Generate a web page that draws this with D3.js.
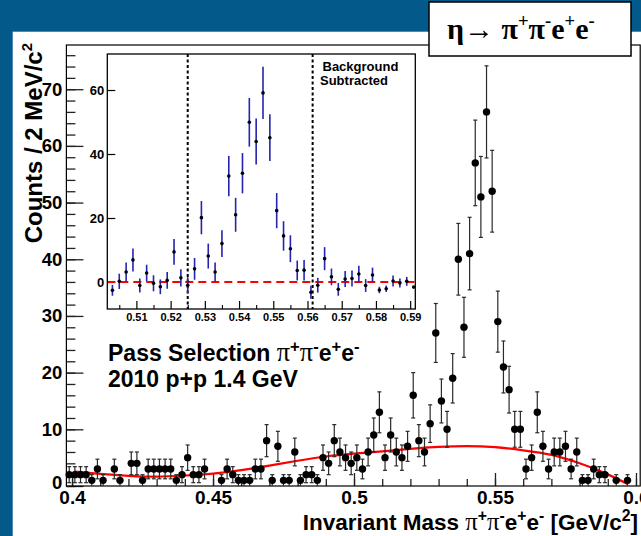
<!DOCTYPE html>
<html>
<head>
<meta charset="utf-8">
<script src="https://cdn.jsdelivr.net/npm/d3@7"></script>
<style>
  html, body { margin: 0; padding: 0; background: #04598b; }
  svg { display: block; }
</style>
</head>
<body>
<svg id="chart" width="641" height="536"></svg>
<script>
// ---- Invariant-mass spectrum, 2 MeV/c^2 bins (bin centres in GeV/c^2) ----
const massBins = [
  0.399,0.401,0.403,0.405,0.407,0.409,0.411,0.413,0.415,0.417,
  0.419,0.421,0.423,0.425,0.427,0.429,0.431,0.433,0.435,0.437,
  0.439,0.441,0.443,0.445,0.447,0.449,0.451,0.453,0.455,0.457,
  0.459,0.461,0.463,0.465,0.467,0.469,0.471,0.473,0.475,0.477,
  0.479,0.481,0.483,0.485,0.487,0.489,0.491,0.493,0.495,0.497,
  0.499,0.501,0.503,0.505,0.507,0.509,0.511,0.513,0.515,0.517,
  0.519,0.521,0.523,0.525,0.527,0.529,0.531,0.533,0.535,0.537,
  0.539,0.541,0.543,0.545,0.547,0.549,0.551,0.553,0.555,0.557,
  0.559,0.561,0.563,0.565,0.567,0.569,0.571,0.573,0.575,0.577,
  0.579,0.581,0.583,0.585,0.587,0.589,0.591,0.593,0.595,0.597
];
const counts = [
  2,2,2,2,1,3,1,0,3,1,
  0,4,4,1,3,3,3,3,3,1,
  2,5,2,2,3,0,0,1,3,2,
  1,1,1,3,3,8,1,7,1,1,
  6,1,2,2,1,5,4,8,6,5,
  4,5,3,6,9,13,5,9,6,5,
  7,16,8,6,11,27,15,10,19,40,
  28,41,57,51,66,52,29,21,17,10,
  10,3,5,13,7,3,6,6,7,3,
  6,1,1,3,2,2,0,1,0,1
];

// Background fit (polynomial), sampled along the mass axis
const fitMass   = [0.401,0.41,0.42,0.43,0.44,0.45,0.46,0.47,0.48,0.49,0.50,0.51,0.52,0.53,0.54,0.55,0.56,0.57,0.58,0.59,0.597];
const fitCounts = [2.55,2.15,1.8,1.65,1.85,2.2,2.8,3.6,4.45,5.2,5.7,6.1,6.55,6.9,7.05,6.85,6.3,5.5,4.0,2.05,0.35];

// ---- Background-subtracted spectrum (inset) ----
const subMass = [
  0.503,0.505,0.507,0.509,0.511,0.513,0.515,0.517,0.519,0.521,
  0.523,0.525,0.527,0.529,0.531,0.533,0.535,0.537,0.539,0.541,
  0.543,0.545,0.547,0.549,0.551,0.553,0.555,0.557,0.559,0.561,
  0.563,0.565,0.567,0.569,0.571,0.573,0.575,0.577,0.579,0.581,
  0.583,0.585,0.587,0.589,0.591
];
const subCounts = [
  -2.6,0.2,3.1,6.9,-1.1,2.8,-0.4,-1.5,0.5,9.4,
  1.3,-1.0,4.1,20.1,8.1,3.1,12.0,33.1,21.0,34.0,
  49.9,43.9,59.1,45.1,22.3,14.4,10.4,3.6,3.7,-3.2,
  -1.0,7.3,1.6,-2.3,0.9,1.1,2.5,-1.1,2.2,-2.5,
  -2.1,0.3,-0.3,0.2,-1.6
];
const subErrors = [
  1.7,2.4,3.0,3.6,2.2,2.6,2.5,2.3,2.6,4.0,
  2.7,2.5,3.4,5.2,3.9,3.0,4.2,6.3,5.3,6.3,
  7.6,7.2,8.2,7.3,5.5,4.6,4.2,3.1,3.2,2.0,
  2.3,3.6,2.6,2.0,2.5,2.5,2.6,2.0,2.3,1.0,
  1.0,1.7,1.4,1.4,0
];
const signalWindow = [0.525, 0.5615];

// Tick values
const mainYTicks = [0,10,20,30,40,50,60,70];
const mainXTicks = [0.4,0.45,0.5,0.55,0.6];
const insetYTicks = [0,20,40,60];
const insetXTicks = [0.51,0.52,0.53,0.54,0.55,0.56,0.57,0.58,0.59];

// ---------------------------------------------------------------------------
const W = 641, H = 536;
const SANS = "'Liberation Sans', Arial, Helvetica, sans-serif";
const SERIF = "'Liberation Serif', 'Times New Roman', serif";
const svg = d3.select('#chart');

svg.append('rect').attr('width', W).attr('height', H).attr('fill', '#04598b');
svg.append('rect').attr('x', 12.7).attr('y', 31.7).attr('width', W).attr('height', H).attr('fill', '#ffffff');

// Text with superscripts; parts = [{t, sup, family, weight, scale}]
function richText(sel, parts, size, supScale = 0.62, rise = 0.42) {
  let shift = 0;
  parts.forEach(p => {
    const target = p.sup ? -size * rise : 0;
    const ts = sel.append('tspan').text(p.t).attr('dy', target - shift);
    if (p.sup) ts.attr('font-size', size * supScale);
    if (p.scale) ts.attr('font-size', size * p.scale);
    if (p.family) ts.attr('font-family', p.family);
    if (p.weight) ts.attr('font-weight', p.weight);
    shift = target;
  });
}

// ---- main frame ----
const x = d3.scaleLinear().domain([0.398, 0.6015]).range([66.4, 640.2]);
const y = d3.scaleLinear().domain([0, 77.8]).range([486, 45]);

const gMain = svg.append('g');

// minor ticks
gMain.append('g').attr('transform', `translate(${x.range()[0]},0)`)
  .call(d3.axisLeft(y).tickValues(d3.range(0, 78, 2)).tickSizeInner(-9).tickSizeOuter(0).tickFormat(''))
  .call(g => g.select('.domain').remove())
  .call(g => g.selectAll('line').attr('stroke', '#222').attr('stroke-width', 1.3));
gMain.append('g').attr('transform', `translate(0,${y(0)})`)
  .call(d3.axisBottom(x).tickValues(d3.range(0.40, 0.605, 0.01)).tickSizeInner(-7).tickSizeOuter(0).tickFormat(''))
  .call(g => g.select('.domain').remove())
  .call(g => g.selectAll('line').attr('stroke', '#222').attr('stroke-width', 1.3));

// major ticks + labels
gMain.append('g').attr('transform', `translate(${x.range()[0]},0)`)
  .call(d3.axisLeft(y).tickValues(mainYTicks).tickSizeInner(-17).tickSizeOuter(0).tickPadding(4).tickFormat(d3.format('d')))
  .call(g => g.select('.domain').remove())
  .call(g => g.selectAll('line').attr('stroke', '#222').attr('stroke-width', 1.3))
  .call(g => g.selectAll('text').attr('font-family', SANS).attr('font-weight', 'bold')
    .attr('font-size', 18.5).attr('fill', '#000'))
  // the zero label sits a little high so it clears the first mass label
  .call(g => g.selectAll('.tick').filter(d => d === 0).select('text').attr('dy', '0.12em'));
gMain.append('g').attr('transform', `translate(0,${y(0)})`)
  .call(d3.axisBottom(x).tickValues(mainXTicks).tickSizeInner(-13).tickSizeOuter(0).tickPadding(4.5).tickFormat(d3.format('')))
  .call(g => g.select('.domain').remove())
  .call(g => g.selectAll('line').attr('stroke', '#222').attr('stroke-width', 1.3))
  .call(g => g.selectAll('text').attr('font-family', SANS).attr('font-weight', 'bold')
    .attr('font-size', 19).attr('fill', '#000'));

gMain.append('rect')
  .attr('x', x.range()[0]).attr('y', y.range()[1])
  .attr('width', x.range()[1] - x.range()[0]).attr('height', y.range()[0] - y.range()[1])
  .attr('fill', 'none').attr('stroke', '#000').attr('stroke-width', 1.2);

// background fit
gMain.append('path')
  .datum(fitMass.map((m, i) => [m, fitCounts[i]]))
  .attr('d', d3.line().x(d => x(d[0])).y(d => y(d[1])).curve(d3.curveNatural))
  .attr('fill', 'none').attr('stroke', '#ff0000').attr('stroke-width', 2.2);

// data with Poisson errors
const pts = massBins.map((m, i) => ({ m, c: counts[i], e: Math.sqrt(counts[i]) })).filter(d => d.c > 0);
const eb = gMain.append('g').attr('stroke', '#2a2a2a').attr('stroke-width', 1.2);
eb.selectAll('line.bar').data(pts).join('line').attr('class', 'bar')
  .attr('x1', d => x(d.m)).attr('x2', d => x(d.m))
  .attr('y1', d => y(d.c - d.e)).attr('y2', d => y(d.c + d.e));
eb.selectAll('line.capHi').data(pts).join('line').attr('class', 'capHi')
  .attr('x1', d => x(d.m) - 2).attr('x2', d => x(d.m) + 2)
  .attr('y1', d => y(d.c + d.e)).attr('y2', d => y(d.c + d.e));
eb.selectAll('line.capLo').data(pts.filter(d => d.c - d.e > 0.05)).join('line').attr('class', 'capLo')
  .attr('x1', d => x(d.m) - 2).attr('x2', d => x(d.m) + 2)
  .attr('y1', d => y(d.c - d.e)).attr('y2', d => y(d.c - d.e));
gMain.append('g').selectAll('circle').data(pts).join('circle')
  .attr('cx', d => x(d.m)).attr('cy', d => y(d.c)).attr('r', 3.7).attr('fill', '#000');

// axis titles
const yTitle = svg.append('text')
  .attr('transform', 'translate(42,43) rotate(-90)')
  .attr('text-anchor', 'end').attr('font-family', SANS).attr('font-weight', 'bold').attr('font-size', 24);
richText(yTitle, [{ t: 'Counts / 2 MeV/c' }, { t: '2', sup: true }], 24);

const xTitle = svg.append('text')
  .attr('x', 638).attr('y', 530)
  .attr('text-anchor', 'end').attr('font-family', SANS).attr('font-weight', 'bold').attr('font-size', 22.5);
richText(xTitle, [
  { t: 'Invariant Mass ' },
  { t: 'π', family: SERIF, weight: 'normal', scale: 1.1 }, { t: '+', sup: true },
  { t: 'π', family: SERIF, weight: 'normal', scale: 1.1 }, { t: '-', sup: true },
  { t: 'e' }, { t: '+', sup: true }, { t: 'e' }, { t: '-', sup: true },
  { t: ' [GeV/c' }, { t: '2', sup: true }, { t: ']' }
], 22.5, 0.7, 0.4);

// selection labels
const sel1 = svg.append('text').attr('x', 108).attr('y', 361)
  .attr('font-family', SANS).attr('font-weight', 'bold').attr('font-size', 23);
richText(sel1, [
  { t: 'Pass Selection ' },
  { t: 'π', family: SERIF, weight: 'normal', scale: 1.15 }, { t: '+', sup: true },
  { t: 'π', family: SERIF, weight: 'normal', scale: 1.15 }, { t: '-', sup: true },
  { t: 'e' }, { t: '+', sup: true }, { t: 'e' }, { t: '-', sup: true }
], 23, 0.72, 0.4);
svg.append('text').attr('x', 108).attr('y', 387)
  .attr('font-family', SANS).attr('font-weight', 'bold').attr('font-size', 23)
  .text('2010 p+p 1.4 GeV');

// ---- inset: background subtracted ----
const xi = d3.scaleLinear().domain([0.5015, 0.5915]).range([107.3, 415.3]);
const yi = d3.scaleLinear().domain([-8.44, 71.25]).range([309, 54]);
const gIn = svg.append('g');

gIn.append('rect')
  .attr('x', xi.range()[0]).attr('y', yi.range()[1])
  .attr('width', xi.range()[1] - xi.range()[0]).attr('height', yi.range()[0] - yi.range()[1])
  .attr('fill', '#fff');

gIn.append('g').attr('transform', `translate(${xi.range()[0]},0)`)
  .call(d3.axisLeft(yi).tickValues(insetYTicks).tickSizeInner(-8).tickSizeOuter(0).tickPadding(3).tickFormat(d3.format('d')))
  .call(g => g.select('.domain').remove())
  .call(g => g.selectAll('line').attr('stroke', '#000').attr('stroke-width', 1.2))
  .call(g => g.selectAll('text').attr('font-family', SANS).attr('font-weight', 'bold')
    .attr('font-size', 13).attr('fill', '#000'));
gIn.append('g').attr('transform', `translate(0,${yi.range()[0]})`)
  .call(d3.axisBottom(xi).tickValues(d3.range(0.505, 0.59, 0.01)).tickSizeInner(-4).tickSizeOuter(0).tickFormat(''))
  .call(g => g.select('.domain').remove())
  .call(g => g.selectAll('line').attr('stroke', '#000').attr('stroke-width', 1.1));
gIn.append('g').attr('transform', `translate(0,${yi.range()[0]})`)
  .call(d3.axisBottom(xi).tickValues(insetXTicks).tickSizeInner(-8).tickSizeOuter(0).tickPadding(4).tickFormat(d3.format('.2f')))
  .call(g => g.select('.domain').remove())
  .call(g => g.selectAll('line').attr('stroke', '#000').attr('stroke-width', 1.2))
  .call(g => g.selectAll('text').attr('font-family', SANS).attr('font-weight', 'bold')
    .attr('font-size', 11).attr('fill', '#000'));

// zero line
gIn.append('line')
  .attr('x1', xi.range()[0]).attr('x2', xi.range()[1])
  .attr('y1', yi(0)).attr('y2', yi(0))
  .attr('stroke', '#ff0000').attr('stroke-width', 2).attr('stroke-dasharray', '8,5');

// signal window
gIn.append('g').selectAll('line').data(signalWindow).join('line')
  .attr('x1', d => xi(d)).attr('x2', d => xi(d))
  .attr('y1', yi.range()[1]).attr('y2', yi.range()[0])
  .attr('stroke', '#000').attr('stroke-width', 2).attr('stroke-dasharray', '3,2.5');

const subPts = subMass.map((m, i) => ({ m, v: subCounts[i], e: subErrors[i] }));
gIn.append('g').attr('stroke', '#2424b0').attr('stroke-width', 1.6)
  .selectAll('line').data(subPts.filter(d => d.e > 0)).join('line')
  .attr('x1', d => xi(d.m)).attr('x2', d => xi(d.m))
  .attr('y1', d => yi(d.v - d.e)).attr('y2', d => yi(d.v + d.e));
gIn.append('g').selectAll('circle').data(subPts).join('circle')
  .attr('cx', d => xi(d.m)).attr('cy', d => yi(d.v)).attr('r', 1.8).attr('fill', '#000');

gIn.append('rect')
  .attr('x', xi.range()[0]).attr('y', yi.range()[1])
  .attr('width', xi.range()[1] - xi.range()[0]).attr('height', yi.range()[0] - yi.range()[1])
  .attr('fill', 'none').attr('stroke', '#000').attr('stroke-width', 1.3);

gIn.append('text').attr('x', 322.5).attr('y', 71)
  .attr('font-family', SANS).attr('font-weight', 'bold').attr('font-size', 13).text('Background');
gIn.append('text').attr('x', 320).attr('y', 84.5)
  .attr('font-family', SANS).attr('font-weight', 'bold').attr('font-size', 13).text('Subtracted');

// ---- decay label ----
svg.append('rect').attr('x', 429).attr('y', 2).attr('width', 202).attr('height', 54)
  .attr('fill', '#fff').attr('stroke', '#000').attr('stroke-width', 1.5);
const decay = svg.append('text').attr('x', 447).attr('y', 39)
  .attr('font-family', SERIF).attr('font-weight', 'bold').attr('font-size', 30);
richText(decay, [
  { t: 'η→ π' }, { t: '+', sup: true }, { t: 'π' }, { t: '-', sup: true },
  { t: 'e' }, { t: '+', sup: true }, { t: 'e' }, { t: '-', sup: true }
], 30, 0.62, 0.4);
</script>
</body>
</html>
